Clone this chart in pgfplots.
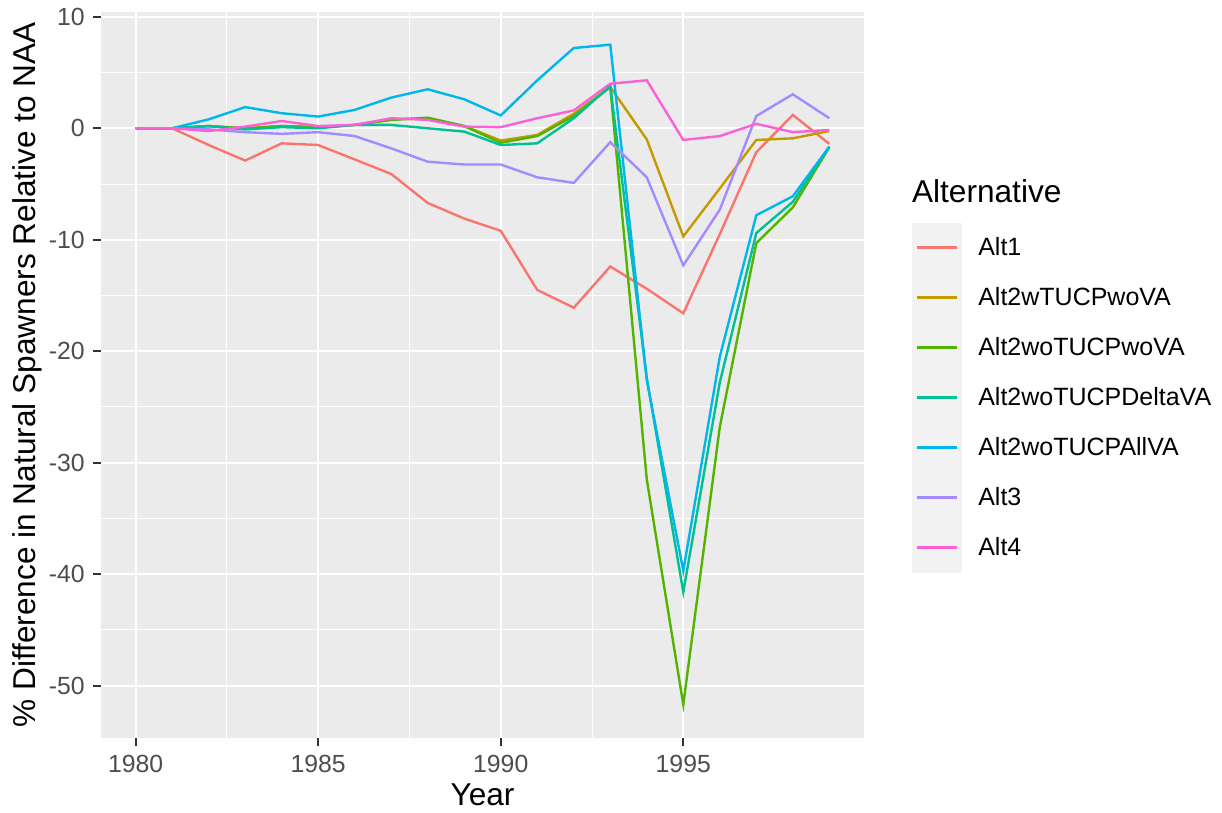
\documentclass[border=0pt]{standalone}
\usepackage{pgfplots}
\pgfplotsset{compat=1.18}
\usepackage{pgfplotstable}
\usepackage{fontspec}
\setmainfont{Liberation Sans}
\definecolor{cA}{HTML}{F8766D}
\definecolor{cB}{HTML}{C49A00}
\definecolor{cC}{HTML}{53B400}
\definecolor{cD}{HTML}{00C094}
\definecolor{cE}{HTML}{00B6EB}
\definecolor{cF}{HTML}{A58AFF}
\definecolor{cG}{HTML}{FB61D7}
\definecolor{gray92}{HTML}{EBEBEB}
\definecolor{gray95}{HTML}{F2F2F2}
\definecolor{gray30}{HTML}{4D4D4D}
\definecolor{gray20}{HTML}{333333}
\pgfplotstableread{
Year A1 A2w A2wo A2D A2All A3 A4
1980 0 0 0 0 0 0 0
1981 0 0 0 0 0 0 0
1982 -1.5 0.2 0.2 0.2 0.8 -0.1 -0.25
1983 -2.9 0.0 0.0 -0.1 1.9 -0.35 0.15
1984 -1.35 0.2 0.2 0.1 1.35 -0.5 0.65
1985 -1.5 0.1 0.1 0.0 1.05 -0.35 0.2
1986 -2.8 0.3 0.3 0.3 1.65 -0.7 0.3
1987 -4.1 0.8 0.75 0.3 2.75 -1.8 0.9
1988 -6.7 0.9 0.95 0.0 3.5 -3.0 0.75
1989 -8.1 0.2 0.2 -0.3 2.6 -3.25 0.15
1990 -9.2 -1.1 -1.3 -1.5 1.15 -3.25 0.1
1991 -14.5 -0.6 -0.7 -1.35 4.3 -4.4 0.9
1992 -16.1 1.3 1.1 0.9 7.2 -4.9 1.6
1993 -12.4 3.7 3.7 3.8 7.5 -1.25 4.0
1994 -14.4 -1.0 -31.5 -22.4 -22.6 -4.4 4.3
1995 -16.6 -9.7 -51.7 -41.6 -39.7 -12.3 -1.05
1996 -9.5 -5.4 -26.8 -22.8 -20.5 -7.3 -0.7
1997 -2.15 -1.05 -10.3 -9.4 -7.8 1.1 0.4
1998 1.2 -0.9 -7.1 -6.6 -6.1 3.05 -0.35
1999 -1.4 -0.25 -1.7 -1.65 -1.65 0.9 -0.15
}\datatable
\begin{document}
\begin{tikzpicture}
\path[use as bounding box, fill=white] (0,0) rectangle (611pt,406.5pt);
\begin{axis}[
  at={(50.5pt,37.5pt)}, anchor=south west,
  scale only axis, width=381.5pt, height=363.15pt,
  xmin=1979.05, xmax=1999.95, ymin=-54.7, ymax=10.46,
  xtick={1980,1985,1990,1995}, ytick={-50,-40,-30,-20,-10,0,10},
  minor x tick num=1, minor y tick num=1,
  grid=both,
  major grid style={draw=white, line width=1pt},
  minor grid style={draw=white, line width=0.5pt},
  axis background/.style={fill=gray92},
  axis line style={draw=none},
  tick pos=left, tick align=outside,
  major tick length=4pt, minor tick length=0pt,
  tick style={draw=gray20, line width=1pt},
  /pgf/number format/assume math mode=true,
  /pgf/number format/1000 sep={},
  xticklabel style={font=\fontsize{12.4}{14}\selectfont, text=gray30, inner sep=0pt, anchor=north, yshift=-4.5pt},
  yticklabel style={font=\fontsize{12.4}{14}\selectfont, text=gray30, inner sep=0pt, anchor=east, xshift=-4pt},
  xlabel={Year},
  ylabel={\% Difference in Natural Spawners Relative to NAA},
  xlabel style={font=\fontsize{15.8}{18}\selectfont, at={(axis description cs:0.5,0)}, anchor=center, yshift=-28.5pt},
  ylabel style={font=\fontsize{15.8}{18}\selectfont, at={(axis description cs:0,0.5)}, anchor=base, yshift=33pt},
  legend style={at={(1.06252,0.70949)}, anchor=north west, draw=none, fill=none,
    inner sep=0pt, outer sep=0pt, row sep=0pt, column sep=8.3pt,
    font=\fontsize{12.5}{15}\selectfont,
    nodes={inner sep=0pt, outer sep=0pt}},
  legend cell align=left,
  legend image code/.code={%
    \fill[gray95, draw=none] (0pt,-12.5pt) rectangle (25pt,12.5pt);
    \draw[line width=1.2pt] (2.5pt,0pt) -- (22.5pt,0pt);},
  every axis plot/.append style={line width=1.2pt},
]
\addplot[cA] table[x=Year,y=A1] {\datatable}; \addlegendentry{Alt1}
\addplot[cB] table[x=Year,y=A2w] {\datatable}; \addlegendentry{Alt2wTUCPwoVA}
\addplot[cC] table[x=Year,y=A2wo] {\datatable}; \addlegendentry{Alt2woTUCPwoVA}
\addplot[cD] table[x=Year,y=A2D] {\datatable}; \addlegendentry{Alt2woTUCPDeltaVA}
\addplot[cE] table[x=Year,y=A2All] {\datatable}; \addlegendentry{Alt2woTUCPAllVA}
\addplot[cF] table[x=Year,y=A3] {\datatable}; \addlegendentry{Alt3}
\addplot[cG] table[x=Year,y=A4] {\datatable}; \addlegendentry{Alt4}
\end{axis}
\node[anchor=base west, inner sep=0pt, font=\fontsize{15.8}{18}\selectfont] at (455.85pt,305pt) {Alternative};
\end{tikzpicture}
\end{document}
